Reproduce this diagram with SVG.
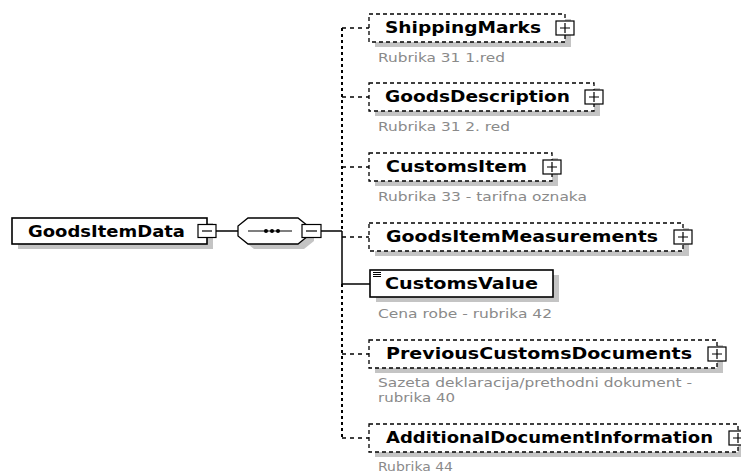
<svg xmlns="http://www.w3.org/2000/svg" width="741" height="473" viewBox="0 0 741 473">
<defs>
<style>
.shadow{fill:#c4c4c4}
.opt{fill:#fff;stroke:#000;stroke-width:1.3;stroke-dasharray:4,3}
.req{fill:#fff;stroke:#000;stroke-width:1.6}
.name{font-family:"DejaVu Sans","Liberation Sans",sans-serif;font-weight:bold;font-size:15px;fill:#000}
.doc{font-family:"DejaVu Sans","Liberation Sans",sans-serif;font-size:12px;fill:#8a8a8a}
.btn{fill:#fff;stroke:#000;stroke-width:1.2}
.sign{stroke:#000;stroke-width:1.2;fill:none}
.solid{stroke:#000;stroke-width:1.5;fill:none}
.dotv{stroke:#000;stroke-width:2;stroke-dasharray:3,3;fill:none}
.dash{stroke:#000;stroke-width:1.3;stroke-dasharray:4,4;fill:none}
</style>
</defs>
<rect x="0" y="0" width="741" height="473" fill="#fff"/>

<g id="connectors">
  <line class="solid" x1="216" y1="231" x2="238" y2="231"/>
  <line class="solid" x1="321" y1="231" x2="342" y2="231"/>
  <line class="dotv" x1="342" y1="28" x2="342" y2="231"/>
  <line class="solid" x1="342" y1="231" x2="342" y2="284"/>
  <line class="solid" x1="342" y1="284" x2="370" y2="284"/>
  <line class="dotv" x1="342" y1="284" x2="342" y2="438"/>
  <line class="dash" x1="342" y1="28" x2="369" y2="28"/>
  <line class="dash" x1="342" y1="97" x2="369" y2="97"/>
  <line class="dash" x1="342" y1="167" x2="369" y2="167"/>
  <line class="dash" x1="342" y1="237" x2="369" y2="237"/>
  <line class="dash" x1="342" y1="354" x2="369" y2="354"/>
  <line class="dash" x1="342" y1="438" x2="369" y2="438"/>
</g>

<g id="GoodsItemData">
  <rect class="shadow" x="18" y="223" width="195" height="26"/>
  <rect class="req" x="12" y="218" width="195" height="26"/>
  <text class="name" x="28" y="237" textLength="157" lengthAdjust="spacingAndGlyphs">GoodsItemData</text>
  <rect class="btn" x="198" y="224.5" width="18" height="13"/>
  <line class="sign" x1="202" y1="231" x2="212" y2="231"/>
</g>

<g id="sequence">
  <polygon class="shadow" points="254,223 304,223 314,231 314,241 304,249 254,249 244,241 244,231"/>
  <polygon points="248,218 298,218 308,226 308,236 298,244 248,244 238,236 238,226" fill="#fff" stroke="#000" stroke-width="1.3"/>
  <line class="sign" x1="248" y1="231" x2="292" y2="231"/>
  <circle cx="266" cy="231" r="2"/>
  <circle cx="272" cy="231" r="2"/>
  <circle cx="278" cy="231" r="2"/>
  <rect class="btn" x="302" y="224.5" width="19" height="13"/>
  <line class="sign" x1="306" y1="231" x2="317" y2="231"/>
</g>

<g id="ShippingMarks">
  <rect class="shadow" x="375" y="19" width="196" height="28"/>
  <rect class="opt" x="369" y="14" width="196" height="28"/>
  <text class="name" x="385" y="33" textLength="156" lengthAdjust="spacingAndGlyphs">ShippingMarks</text>
  <rect class="btn" x="556" y="21" width="18" height="14"/>
  <path class="sign" d="M560 28H570M565 23V33"/>
  <text class="doc" x="378" y="62" textLength="127" lengthAdjust="spacingAndGlyphs">Rubrika 31 1.red</text>
</g>

<g id="GoodsDescription">
  <rect class="shadow" x="375" y="88" width="225" height="28"/>
  <rect class="opt" x="369" y="83" width="225" height="28"/>
  <text class="name" x="385" y="102" textLength="185" lengthAdjust="spacingAndGlyphs">GoodsDescription</text>
  <rect class="btn" x="585" y="90" width="18" height="14"/>
  <path class="sign" d="M589 97H599M594 92V102"/>
  <text class="doc" x="378" y="131" textLength="132" lengthAdjust="spacingAndGlyphs">Rubrika 31 2. red</text>
</g>

<g id="CustomsItem">
  <rect class="shadow" x="375" y="158" width="183" height="28"/>
  <rect class="opt" x="369" y="153" width="183" height="28"/>
  <text class="name" x="386" y="172" textLength="141" lengthAdjust="spacingAndGlyphs">CustomsItem</text>
  <rect class="btn" x="543" y="160" width="18" height="14"/>
  <path class="sign" d="M547 167H557M552 162V172"/>
  <text class="doc" x="378" y="201" textLength="209" lengthAdjust="spacingAndGlyphs">Rubrika 33 - tarifna oznaka</text>
</g>

<g id="GoodsItemMeasurements">
  <rect class="shadow" x="375" y="228" width="314" height="28"/>
  <rect class="opt" x="369" y="223" width="314" height="28"/>
  <text class="name" x="386" y="242" textLength="272" lengthAdjust="spacingAndGlyphs">GoodsItemMeasurements</text>
  <rect class="btn" x="674" y="230" width="18" height="14"/>
  <path class="sign" d="M678 237H688M683 232V242"/>
</g>

<g id="CustomsValue">
  <rect class="shadow" x="376" y="275" width="183" height="27"/>
  <rect class="req" x="370" y="270" width="183" height="27"/>
  <path d="M373 272.5H381M373 274.5H381M373 276.5H381" stroke="#000" stroke-width="1"/>
  <text class="name" x="385" y="289" textLength="153" lengthAdjust="spacingAndGlyphs">CustomsValue</text>
  <text class="doc" x="378" y="318" textLength="174" lengthAdjust="spacingAndGlyphs">Cena robe - rubrika 42</text>
</g>

<g id="PreviousCustomsDocuments">
  <rect class="shadow" x="375" y="345" width="348" height="28"/>
  <rect class="opt" x="369" y="340" width="348" height="28"/>
  <text class="name" x="386" y="359" textLength="306" lengthAdjust="spacingAndGlyphs">PreviousCustomsDocuments</text>
  <rect class="btn" x="708" y="347" width="18" height="14"/>
  <path class="sign" d="M712 354H722M717 349V359"/>
  <text class="doc" x="378" y="387" textLength="314" lengthAdjust="spacingAndGlyphs">Sazeta deklaracija/prethodni dokument -</text>
  <text class="doc" x="378" y="402" textLength="77" lengthAdjust="spacingAndGlyphs">rubrika 40</text>
</g>

<g id="AdditionalDocumentInformation">
  <rect class="shadow" x="375" y="429" width="369" height="28"/>
  <rect class="opt" x="369" y="424" width="369" height="28"/>
  <text class="name" x="386" y="443" textLength="327" lengthAdjust="spacingAndGlyphs">AdditionalDocumentInformation</text>
  <rect class="btn" x="729" y="431" width="18" height="14"/>
  <path class="sign" d="M733 438H743M738 433V443"/>
  <text class="doc" x="378" y="471" textLength="75" lengthAdjust="spacingAndGlyphs">Rubrika 44</text>
</g>
</svg>
